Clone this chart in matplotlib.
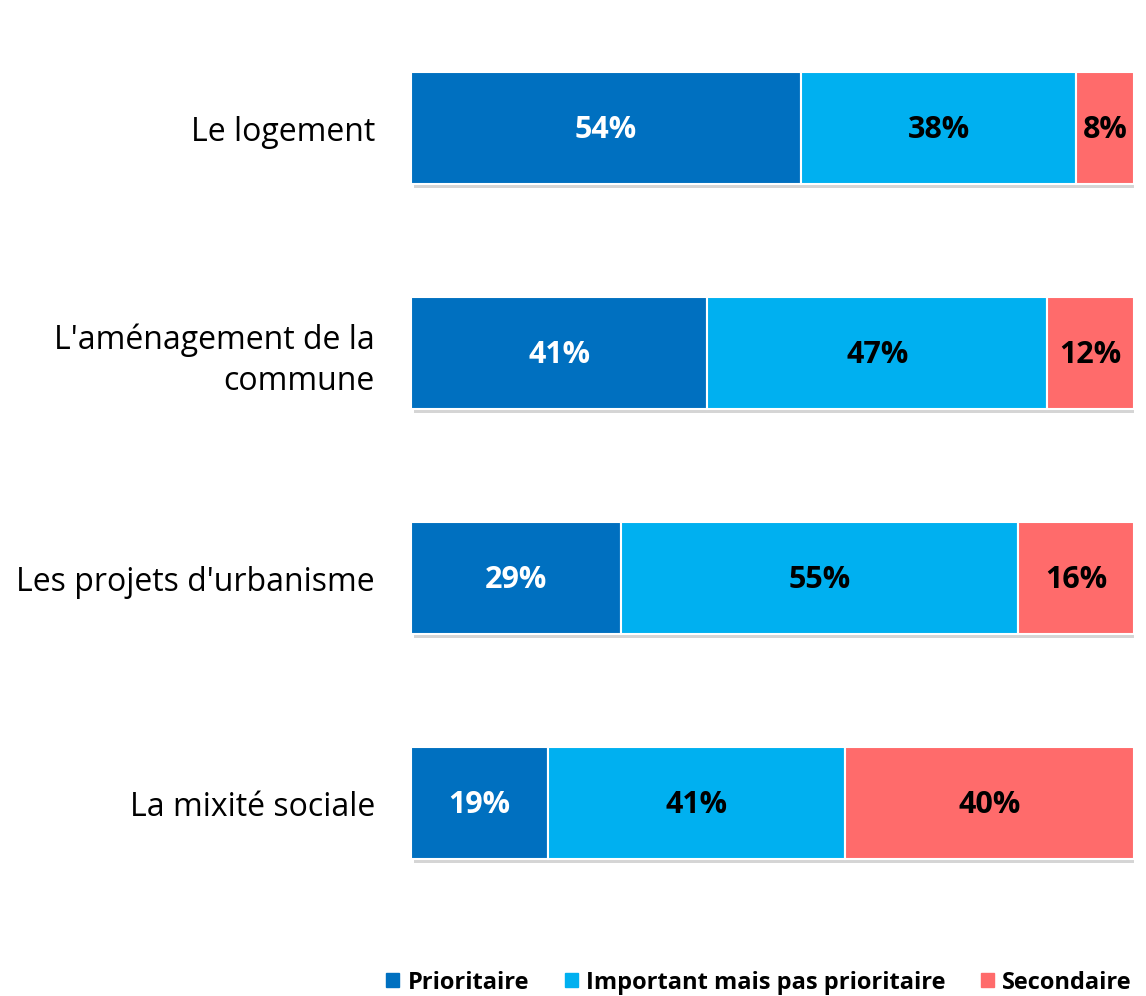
import matplotlib
matplotlib.use("Agg")
import matplotlib.pyplot as plt
import matplotlib.patches as mpatches
import matplotlib.patheffects as pe
import numpy as np

categories = ["Le logement", "L'aménagement de la\ncommune",
              "Les projets d'urbanisme", "La mixité sociale"]
series_names = ["Prioritaire", "Important mais pas prioritaire", "Secondaire"]
prioritaire = [54, 41, 29, 19]
important = [38, 47, 55, 41]
secondaire = [8, 12, 16, 40]

COLORS = ["#0070C0", "#00B0F0", "#FF6B6B"]
TEXT_COLORS = ["white", "black", "black"]

plt.rcParams["font.family"] = ["Open Sans", "DejaVu Sans"]

fig = plt.figure(figsize=(11.46, 9.96), dpi=100)
ax = fig.add_axes([0.3586, 0.0808, 0.6309, 0.9036])

y = np.arange(len(categories))
left = np.zeros(len(categories))
shadow = [pe.SimplePatchShadow(offset=(2, -3), shadow_rgbFace="#888888", alpha=0.35), pe.Normal()]
for vals, col, tcol in zip([prioritaire, important, secondaire], COLORS, TEXT_COLORS):
    bars = ax.barh(y, vals, left=left, height=0.5, color=col,
                   edgecolor="white", linewidth=1.5)
    for b in bars:
        b.set_path_effects(shadow)
    for yi, v, l in zip(y, vals, left):
        ax.text(l + v / 2, yi + 0.01, f"{v}%", ha="center", va="center",
                color=tcol, fontsize=22, fontweight="bold")
    left = left + np.array(vals)

ax.set_xlim(0, 100)
ax.set_ylim(3.5, -0.5)
ax.set_yticks(y)
ax.set_yticklabels(categories, fontsize=23, ha="right")
ax.tick_params(axis="y", length=0, pad=26)
ax.set_xticks([])
for s in ax.spines.values():
    s.set_visible(False)
for lbl in ax.get_yticklabels():
    lbl.set_multialignment("right")
    lbl.set_linespacing(1.3)

handles = [mpatches.Patch(color=c, label=n) for c, n in zip(COLORS, series_names)]
fig.legend(handles=handles, loc="lower right", bbox_to_anchor=(1.006, -0.02),
           ncol=3, frameon=False, prop={"weight": "bold", "size": 17},
           handlelength=0.55, handleheight=0.55, handletextpad=0.35, columnspacing=1.5)

fig.savefig("out.png", dpi=100)
